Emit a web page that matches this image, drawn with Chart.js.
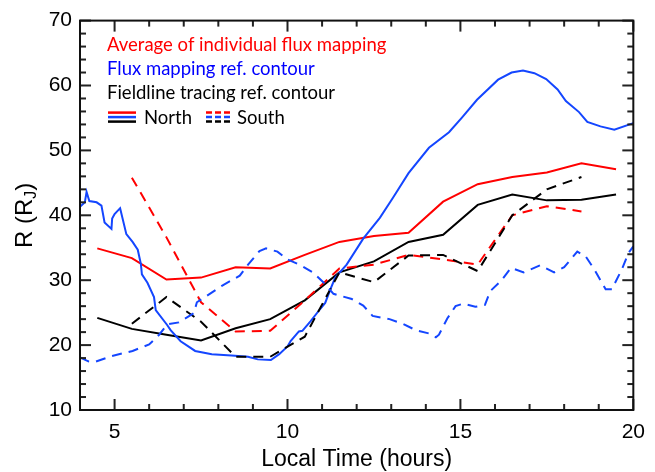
<!DOCTYPE html>
<html>
<head>
<meta charset="utf-8">
<script src="https://cdn.jsdelivr.net/npm/chart.js@4.4.0/dist/chart.umd.min.js"></script>
<style>
  body { margin: 0; background: #fff; }
  #box { width: 655px; height: 472px; }
</style>
</head>
<body>
<div id="box"><canvas id="grafico"></canvas></div>
<script>

// hours for the north/south averaged curves
const hoursNorth = [4.5, 5.5, 6.5, 7.5, 8.5, 9.5, 10.5, 11.5, 12.5, 13.5, 14.5, 15.5, 16.5, 17.5, 18.5, 19.5]
const hoursSouth = [5.5, 6.5, 7.5, 8.5, 9.5, 10.5, 11.5, 12.5, 13.5, 14.5, 15.5, 16.5, 17.5, 18.5]

// average of individual flux mapping (red)
const redNorth = [34.9, 33.4, 30.1, 30.4, 32.0, 31.8, 33.9, 35.9, 36.8, 37.3, 42.1, 44.8, 45.9, 46.6, 48.0, 47.1]
const redSouth = [45.8, 36.6, 26.6, 22.1, 22.2, 26.9, 31.8, 32.4, 33.9, 33.2, 32.4, 40.0, 41.4, 40.6]

// fieldline tracing ref. contour (black)
const blackNorth = [24.2, 22.5, 21.6, 20.7, 22.6, 24.0, 26.9, 31.2, 32.9, 35.9, 37.0, 41.6, 43.2, 42.3, 42.4, 43.2]
const blackSouth = [23.3, 27.4, 23.6, 18.2, 18.2, 21.3, 31.2, 29.7, 33.8, 33.9, 31.4, 40.0, 44.0, 45.9]

// flux mapping ref. contour (blue), sampled finer
const blueNorthHours = [4.0, 4.14, 4.19, 4.27, 4.48, 4.62, 4.71, 4.91, 4.93, 5.0, 5.16, 5.34, 5.52, 5.67, 5.76, 5.79,
  5.95, 6.14, 6.19, 6.52, 6.62, 6.91, 7.33, 7.81, 8.38, 8.86, 9.14, 9.52, 9.76, 10.0, 10.09, 10.33, 10.43, 10.67,
  10.95, 11.09, 11.24, 11.38, 11.71, 12.19, 12.67, 13.05, 13.5, 14.09, 14.67, 15.05, 15.48, 16.09, 16.48, 16.81,
  17.14, 17.48, 17.81, 18.05, 18.43, 18.67, 19.05, 19.45, 20.0]
const blueNorth = [41.3, 42.0, 43.6, 42.2, 42.0, 41.5, 38.9, 37.9, 39.5, 40.2, 41.1, 37.1, 35.9, 34.7, 32.5, 30.9,
  29.6, 27.4, 25.4, 23.1, 22.3, 20.6, 19.1, 18.6, 18.4, 18.2, 17.8, 17.7, 18.6, 19.8, 20.6, 22.1, 22.2, 23.7,
  25.6, 26.5, 28.6, 30.4, 32.4, 36.4, 39.6, 42.7, 46.5, 50.4, 52.8, 55.1, 57.8, 60.9, 62.0, 62.3,
  61.9, 61.0, 59.4, 57.6, 55.9, 54.4, 53.7, 53.2, 54.2]

const blueSouthHours = [4.0, 4.24, 4.43, 4.91, 5.52, 6.0, 6.29, 6.52, 6.86, 7.29, 7.38, 7.67, 8.09, 8.62, 8.86, 9.19,
  9.38, 9.71, 10.0, 10.38, 10.76, 11.05, 11.33, 11.86, 12.19, 12.46, 12.95, 13.33, 13.71, 14.09, 14.29, 14.38,
  14.62, 14.86, 15.09, 15.43, 15.71, 15.86, 16.19, 16.46, 16.83, 17.31, 17.71, 18.0, 18.38, 18.62, 18.89, 19.2,
  19.38, 19.67, 19.86, 20.0]
const blueSouth = [18.1, 17.5, 17.4, 18.3, 19.1, 20.1, 21.6, 23.2, 23.5, 24.9, 26.6, 27.6, 29.1, 30.7, 32.4, 34.5,
  34.9, 34.4, 33.2, 32.3, 31.1, 29.6, 27.9, 27.1, 26.1, 24.5, 24.0, 23.3, 22.3, 21.8, 21.2, 21.6,
  24.1, 26.0, 26.4, 25.9, 26.2, 28.3, 30.0, 31.9, 31.2, 32.3, 31.2, 32.0, 34.4, 33.7, 31.5, 28.6,
  28.6, 31.7, 34.2, 35.2]

// tick spacing (minor / major) for the inward ticks
const xMinor = 1, xMajor = 5
const yMinor = 2, yMajor = 10

const RED = '#ff0000'
const BLUE = 'rgb(20, 70, 255)'
const BLACK = '#000000'

function pares (xs, ys) {
  return xs.map((x, i) => ({ x: x, y: ys[i] }))
}

function serie (xs, ys, cor, tracejado) {
  return {
    data: pares(xs, ys),
    borderColor: cor,
    borderWidth: 2,
    borderDash: tracejado ? [10, 7] : [],
    pointRadius: 0,
    tension: 0,
    fill: false
  }
}

// frame, inward ticks, legend and titles drawn on top
const extras = {
  id: 'extras',
  afterDraw (chart) {
    const ctx = chart.ctx
    const a = chart.chartArea
    const sx = chart.scales.x
    const sy = chart.scales.y
    ctx.save()
    ctx.fillStyle = '#222'

    // ticks x
    for (let h = sx.min; h <= sx.max + 0.001; h += xMinor) {
      const px = sx.getPixelForValue(h)
      const len = Math.abs(h % xMajor) < 0.001 ? 11 : 6
      ctx.fillRect(px - 1, a.bottom - len, 2, len)
      ctx.fillRect(px - 1, a.top, 2, len)
    }
    // ticks y
    for (let r = sy.min; r <= sy.max + 0.001; r += yMinor) {
      const py = sy.getPixelForValue(r)
      const len = Math.abs(r % yMajor) < 0.001 ? 11 : 6
      ctx.fillRect(a.left, py - 1, len, 2)
      ctx.fillRect(a.right - len, py - 1, len, 2)
    }
    ctx.strokeStyle = '#111'
    ctx.lineWidth = 2
    ctx.setLineDash([])
    ctx.strokeRect(a.left, a.top, a.right - a.left, a.bottom - a.top)

    // legend
    const lx = a.left + 27
    ctx.font = '18.5px Lato'
    ctx.textBaseline = 'alphabetic'
    ctx.textAlign = 'left'
    ctx.fillStyle = RED
    ctx.fillText('Average of individual flux mapping', lx, a.top + 30.5)
    ctx.fillStyle = '#0000ff'
    ctx.fillText('Flux mapping ref. contour', lx, a.top + 54.5)
    ctx.fillStyle = BLACK
    ctx.fillText('Fieldline tracing ref. contour', lx, a.top + 78.5)
    ctx.fillText('North', a.left + 64, a.top + 103)
    ctx.fillText('South', a.left + 157, a.top + 103)

    const amostras = [[RED, 92], [BLUE, 96.5], [BLACK, 101]]
    ctx.lineWidth = 2.5
    for (let [cor, dy] of amostras) {
      ctx.strokeStyle = cor
      ctx.setLineDash([])
      ctx.beginPath()
      ctx.moveTo(a.left + 28, a.top + dy)
      ctx.lineTo(a.left + 56, a.top + dy)
      ctx.stroke()
      ctx.setLineDash([6, 3])
      ctx.beginPath()
      ctx.moveTo(a.left + 126, a.top + dy)
      ctx.lineTo(a.left + 151, a.top + dy)
      ctx.stroke()
    }
    ctx.setLineDash([])

    // x title
    ctx.fillStyle = BLACK
    ctx.font = '23px "Liberation Sans"'
    ctx.textAlign = 'center'
    ctx.fillText('Local Time (hours)', (a.left + a.right) / 2, 466)

    // y title with subscript J
    ctx.translate(32, (a.top + a.bottom) / 2)
    ctx.rotate(-Math.PI / 2)
    ctx.textAlign = 'left'
    const grande = '24px "Liberation Sans"'
    const pequeno = '16px "Liberation Sans"'
    ctx.font = grande
    const w1 = ctx.measureText('R (R').width
    const w3 = ctx.measureText(')').width
    ctx.font = pequeno
    const w2 = ctx.measureText('J').width
    let x0 = -(w1 + w2 + w3) / 2
    ctx.font = grande
    ctx.fillText('R (R', x0, 0)
    ctx.font = pequeno
    ctx.fillText('J', x0 + w1, 4)
    ctx.font = grande
    ctx.fillText(')', x0 + w1 + w2, 0)
    ctx.restore()
  }
}

const config = {
  type: 'line',
  data: {
    datasets: [
      serie(blueSouthHours, blueSouth, BLUE, true),
      serie(hoursSouth, blackSouth, BLACK, true),
      serie(hoursSouth, redSouth, RED, true),
      serie(blueNorthHours, blueNorth, BLUE, false),
      serie(hoursNorth, blackNorth, BLACK, false),
      serie(hoursNorth, redNorth, RED, false)
    ]
  },
  options: {
    responsive: true,
    maintainAspectRatio: false,
    animation: false,
    layout: { padding: { top: 13, right: 15, left: 0, bottom: 0 } },
    plugins: {
      legend: { display: false },
      tooltip: { enabled: false }
    },
    scales: {
      x: {
        type: 'linear',
        min: 4,
        max: 20,
        grid: { display: false, drawTicks: false },
        border: { display: false },
        ticks: {
          stepSize: xMajor,
          includeBounds: false,
          maxRotation: 0,
          padding: 10,
          color: '#000',
          font: { family: 'Liberation Sans', size: 21 }
        },
        afterFit: s => { s.height = 62 }
      },
      y: {
        min: 10,
        max: 70,
        grid: { display: false, drawTicks: false },
        border: { display: false },
        ticks: {
          stepSize: yMajor,
          padding: 8,
          color: '#000',
          font: { family: 'Liberation Sans', size: 21 }
        },
        afterFit: s => { s.width = 80 }
      }
    }
  },
  plugins: [extras]
}

const grafico = new Chart(document.getElementById('grafico'), config)

</script>
</body>
</html>
